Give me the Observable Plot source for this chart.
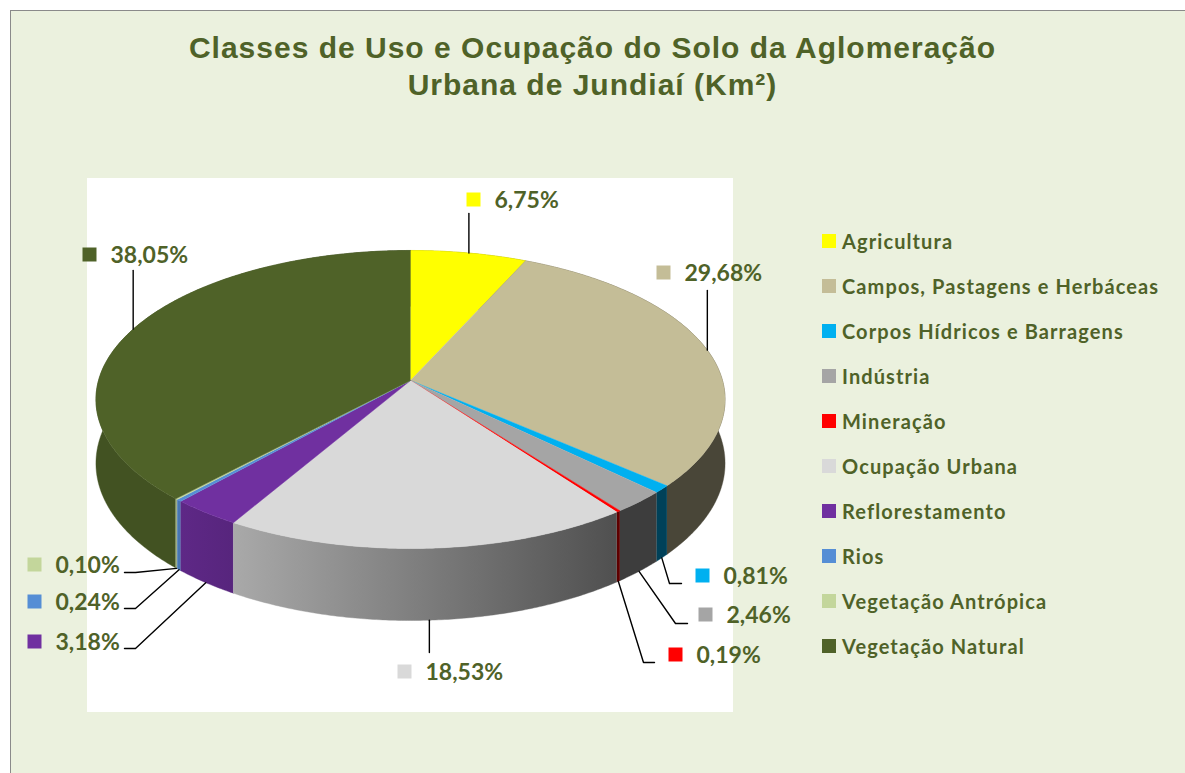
<!DOCTYPE html>
<html><head><meta charset="utf-8">
<script src="https://cdn.jsdelivr.net/npm/d3@7"></script>
<script src="https://cdn.jsdelivr.net/npm/@observablehq/plot@0.6"></script>
<style>
body{margin:0;width:1185px;height:773px;overflow:hidden;background:#fff;position:relative;font-family:Lato,sans-serif}
#frame{position:absolute;left:10px;top:10px;width:1200px;height:800px;border:1px solid #8a8a8a;background:#ebf1de}
#title{position:absolute;left:0;top:29px;width:1185px;text-align:center;font:bold 30px "Liberation Sans",Arial,sans-serif;letter-spacing:1px;color:#4f6228;line-height:37.4px}
#plotbg{position:absolute;left:87px;top:178px;width:646px;height:534px;background:#fff}
#chart{position:absolute;left:0;top:120px}
#legend{position:absolute;left:822px;top:0}
.item{position:absolute;left:0;height:24px;display:flex;align-items:center;white-space:nowrap;font-weight:700;font-size:20px;letter-spacing:1.1px;color:#4f6228}
.sw{width:14px;height:14px;margin-right:6px;flex:none}
</style></head><body>
<div id="frame"></div>
<div id="title"></div>
<div id="plotbg"></div>
<div id="chart"></div>
<div id="legend"></div>
<script>
// ---- data ----
const categories = ["Agricultura","Campos, Pastagens e Herbáceas","Corpos Hídricos e Barragens","Indústria","Mineração","Ocupação Urbana","Reflorestamento","Rios","Vegetação Antrópica","Vegetação Natural"];
const percents = [6.75, 29.68, 0.81, 2.46, 0.19, 18.53, 3.18, 0.24, 0.10, 38.05];
const colors = ["#ffff00","#c4bd97","#00b0f0","#a5a5a5","#ff0000","#d9d9d9","#7030a0","#558ed5","#c3d69b","#4f6228"];
const titleLines = ["Classes de Uso e Ocupação do Solo da Aglomeração","Urbana de Jundiaí (Km²)"];

// ---- layout (label placement, page pixels) ----
const labelLayout = {
  "Agricultura": {mx:473, my:199, path:[[null,213]]},
  "Campos, Pastagens e Herbáceas": {mx:663, my:272, path:[[null,290]]},
  "Corpos Hídricos e Barragens": {mx:702, my:575, path:[[669,583],[681,583]]},
  "Indústria": {mx:705, my:614, path:[[675,623],[687,623]]},
  "Mineração": {mx:675, my:654, path:[[643,662],[654,662]]},
  "Ocupação Urbana": {mx:404, my:671, path:[[null,652]]},
  "Reflorestamento": {mx:34, my:641, path:[[135,648],[124,648]]},
  "Rios": {mx:34, my:601, path:[[135,608],[124,608]]},
  "Vegetação Antrópica": {mx:34, my:564, path:[[135,572],[124,572]]},
  "Vegetação Natural": {mx:89, my:254, path:[[null,270]]}
};
// side shading (brightness factor vs. horizontal position)
const shadeStops = [[0, 0.84], [180, 0.84], [233, 0.78], [615, 0.37], [1185, 0.37]];

document.getElementById("title").innerHTML = titleLines.join("<br>");

const W = 1185, H = 773, TOP = 120;
const cx = 410, cy = 380, R = 312, B = 146.6, K = 0.1275, DEPTH = 62.8;
function proj(phi, down) {
  const X = Math.sin(phi), Z = -Math.cos(phi);
  const s = 1 / (1 - K * Z);
  return {x: cx + R * X * s, y: cy + B * Z * s + (down ? DEPTH * s : 0), z: Z};
}
function shade(c, f) { const r = d3.rgb(c); return d3.rgb(r.r * f, r.g * f, r.b * f).formatHex(); }

const table = categories.map((c, i) => ({cat: c, pct: percents[i], color: colors[i]}));
const arcs = d3.pie().sort(null).value(d => d.pct)(table);
const STEP = 0.5 * Math.PI / 180;

// side bands (one polygon per slice), back to front
const sideOrder = arcs.map((a, i) => i).sort((i, j) =>
  proj((arcs[i].startAngle + arcs[i].endAngle) / 2).z - proj((arcs[j].startAngle + arcs[j].endAngle) / 2).z);
const rows = [];
sideOrder.forEach(i => {
  const a = arcs[i], id = "s" + i, fill = `url(#side${i})`;
  const n = Math.max(2, Math.ceil((a.endAngle - a.startAngle) / STEP));
  for (let j = 0; j <= n; j++) { const p = proj(a.startAngle + (a.endAngle - a.startAngle) * j / n, false); rows.push({id, x: p.x, y: p.y, fill}); }
  for (let j = n; j >= 0; j--) { const p = proj(a.startAngle + (a.endAngle - a.startAngle) * j / n, true); rows.push({id, x: p.x, y: p.y, fill}); }
});
// top faces
const tops = [];
arcs.forEach((a, i) => {
  const id = "t" + i, fill = a.data.color;
  tops.push({id, x: cx, y: cy, fill});
  const n = Math.max(2, Math.ceil((a.endAngle - a.startAngle) / STEP));
  for (let j = 0; j <= n; j++) { const p = proj(a.startAngle + (a.endAngle - a.startAngle) * j / n, false); tops.push({id, x: p.x, y: p.y, fill}); }
});

// labels
const leaders = [], labels = [];
arcs.forEach((a, i) => {
  const L = labelLayout[a.data.cat];
  const mid = (a.startAngle + a.endAngle) / 2;
  const front = -Math.cos(mid) > 0.3;
  const anc = proj(mid, front);
  leaders.push({id: i, x: anc.x, y: anc.y});
  L.path.forEach(([px, py]) => leaders.push({id: i, x: px == null ? anc.x : px, y: py}));
  labels.push({x: L.mx, y: L.my, color: a.data.color, text: a.data.pct.toFixed(2).replace(".", ",") + "%"});
});

const chart = Plot.plot({
  width: W, height: H - TOP,
  margin: 0,
  x: {domain: [0, W], range: [0, W], axis: null},
  y: {domain: [TOP, H], range: [0, H - TOP], axis: null},
  color: {type: "identity"},
  style: {background: "transparent", overflow: "visible"},
  marks: [
    Plot.line(rows, {x: "x", y: "y", z: "id", fill: "fill", stroke: "fill", strokeWidth: 0.4, curve: "linear"}),
    Plot.line(tops, {x: "x", y: "y", z: "id", fill: "fill", stroke: "fill", strokeWidth: 0.5, curve: "linear"}),
    Plot.line(leaders, {x: "x", y: "y", z: "id", stroke: "#000", strokeWidth: 1.4, curve: "linear"}),
    Plot.dot(labels, {x: "x", y: "y", fill: "color", symbol: "square", r: 7.9, stroke: null}),
    Plot.text(labels, {x: d => d.x + 21, y: d => d.y + 1, text: "text", textAnchor: "start", fill: "#4f6228", fontSize: 23, fontWeight: "bold", fontFamily: "Lato, sans-serif", letterSpacing: "0.8px"})
  ]
});
// gradient definitions for the shaded sides
const defs = d3.select(chart).insert("defs", ":first-child");
colors.forEach((c, i) => {
  const g = defs.append("linearGradient").attr("id", "side" + i).attr("gradientUnits", "userSpaceOnUse")
    .attr("x1", 0).attr("x2", W).attr("y1", 0).attr("y2", 0);
  shadeStops.forEach(([x, f]) => g.append("stop").attr("offset", x / W).attr("stop-color", shade(c, f)));
});
document.getElementById("chart").appendChild(chart);

// legend
const leg = d3.select("#legend");
categories.forEach((c, i) => {
  const it = leg.append("div").attr("class", "item").style("top", (241 + 45 * i - 12) + "px");
  it.append("div").attr("class", "sw").style("background", colors[i]);
  it.append("span").text(c);
});
</script>
</body></html>
